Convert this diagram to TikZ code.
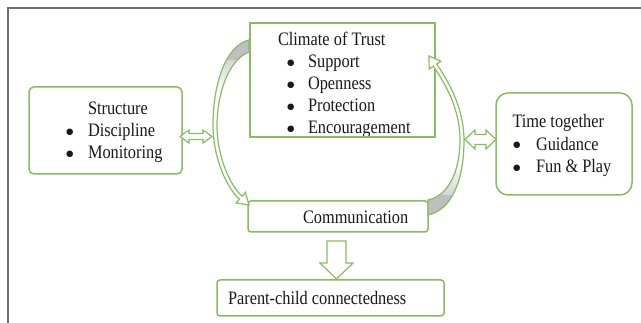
\documentclass[tikz,border=0pt]{standalone}
\usepackage{fontspec}
\setmainfont{Liberation Serif}[FakeStretch=0.86]
\newfontfamily\dotfont{DejaVu Sans}
\usetikzlibrary{calc}
\definecolor{lgreen}{RGB}{135,188,98}
\definecolor{ribbon}{RGB}{190,192,190}
\definecolor{framegray}{RGB}{110,110,110}
\definecolor{ink}{RGB}{25,25,25}

% curved ribbon arrow: Climate of Trust -> Communication (left side)
\newcommand{\leftribbon}{(249,40) .. controls (225,46) and (213,85) .. (213,125)
  .. controls (213,160) and (228.2,189.3) .. (239.4,199.2)
  -- (236.1,203) -- (249,205) -- (245.4,192.4) -- (242.1,196.2)
  .. controls (230.9,186.3) and (217,158) .. (217,125)
  .. controls (217,95) and (228,60) .. (249,52) -- cycle}
% curved ribbon arrow: Communication -> Climate of Trust (right side)
\newcommand{\rightribbon}{(428,215) .. controls (452,210) and (464,180) .. (464,140)
  .. controls (464,105) and (444.95,76.45) .. (436.7,64)
  -- (440.8,61.3) -- (429,56) -- (429.2,69) -- (433.3,66.2)
  .. controls (441.5,78.6) and (460,105) .. (460,140)
  .. controls (460,172) and (448,196) .. (428,200) -- cycle}
% bullet item: bullet in a box of given width, then the text
\newcommand{\bulletline}[2]{\makebox[#1][l]{\raisebox{2.6pt}{\dotfont\fontsize{8.5}{9}\selectfont ●}}#2}

\begin{document}
\begin{tikzpicture}[x=1pt,y=-1pt,
  box/.style={draw=lgreen, line width=1.5pt, fill=white, inner sep=0pt, outer sep=0pt},
  label/.style={anchor=base west, inner sep=0pt, outer sep=0pt, text=ink,
    font=\fontsize{19}{21}\selectfont},
  blockarrow/.style={draw=lgreen, line width=1.2pt, fill=white, line join=miter},
  ribbonedge/.style={draw=lgreen, line width=1.2pt}]

\useasboundingbox (0,0) rectangle (641,323);
\fill[white] (0,0) rectangle (641,323);

% frame
\draw[framegray, line width=2pt] (8,323) -- (8,8) -- (641,8);

% boxes
\node[box, minimum width=185pt, minimum height=114pt] (climate) at (342.5,80) {};
\node[box, rounded corners=5pt, minimum width=153pt, minimum height=87pt] (structure) at (105.5,130.5) {};
\node[box, rounded corners=12pt, minimum width=136pt, minimum height=102pt] (together) at (564,144) {};
\node[box, rounded corners=3pt, minimum width=180pt, minimum height=31pt] (comm) at (338,216.5) {};
\node[box, rounded corners=3pt, minimum width=227pt, minimum height=36pt] (parent) at (330.5,298) {};

% texts of Climate of Trust, clipped by its frame
\begin{scope}
  \clip (climate.south west) rectangle (climate.north east);
  \node[label] (ct) at (278,46) {Climate of Trust};
  \node[label] (c1) at (287,68) {\bulletline{21pt}{Support}};
  \node[label] (c2) at (287,90) {\bulletline{21pt}{Openness}};
  \node[label] (c3) at (287,112) {\bulletline{21pt}{Protection}};
  \node[label] (c4) at (287,134) {\bulletline{21pt}{Encouragement}};
\end{scope}
\draw[lgreen, line width=1.5pt] (climate.south west) rectangle (climate.north east);

% texts of Structure
\node[label] (st) at (88,115) {Structure};
\node[label] (s1) at (66,137) {\bulletline{22pt}{Discipline}};
\node[label] (s2) at (66,159) {\bulletline{22pt}{Monitoring}};

% texts of Time together
\node[label] (tt) at (512.5,128) {Time together};
\node[label] (t1) at (513,150.5) {\bulletline{23pt}{Guidance}};
\node[label] (t2) at (513,173) {\bulletline{23pt}{Fun \& Play}};

% other texts
\node[label] (ctext) at (303,224) {Communication};
\node[label] (ptext) at (228,305) {Parent-child connectedness};

% curved ribbons with shaded tails
\begin{scope}
  \clip \leftribbon;
  \fill[white] (200,30) rectangle (260,215);
  \shade[top color=ribbon, bottom color=white] (200,40) rectangle (260,95);
  \fill[ribbon] (200,30) rectangle (260,60);
\end{scope}
\draw[ribbonedge] \leftribbon;

\begin{scope}
  \clip \rightribbon;
  \fill[white] (420,50) rectangle (470,220);
  \shade[top color=white, bottom color=ribbon] (420,160) rectangle (470,212);
  \fill[ribbon] (420,195) rectangle (470,220);
\end{scope}
\draw[ribbonedge] \rightribbon;

% double arrow Structure <-> left ribbon
\draw[blockarrow]
  ($(structure.east)+(-2,6)$) coordinate (la)
  -- ++(9,-6.5) -- ++(0,3.5) -- ++(14,0) -- ++(0,-3.5) -- ++(9,6.5)
  -- ++(-9,6.5) -- ++(0,-3.5) -- ++(-14,0) -- ++(0,3.5) -- cycle;

% double arrow right ribbon <-> Time together
\draw[blockarrow]
  ($(together.west)+(-31,-4.5)$) coordinate (ra)
  -- ++(10,-9.5) -- ++(0,4.5) -- ++(11,0) -- ++(0,-4.5) -- ++(10,9.5)
  -- ++(-10,9.5) -- ++(0,-4.5) -- ++(-11,0) -- ++(0,4.5) -- cycle;

% block arrow Communication -> Parent-child connectedness
\draw[blockarrow]
  ($(comm.south)+(-11,9)$) coordinate (da)
  -- ++(19,0) -- ++(0,22) -- ++(7,0) -- ($(parent.north)+(6,-1)$) coordinate (db)
  -- ++(-16.5,-16) -- ++(7,0) -- cycle;

\end{tikzpicture}
\end{document}
